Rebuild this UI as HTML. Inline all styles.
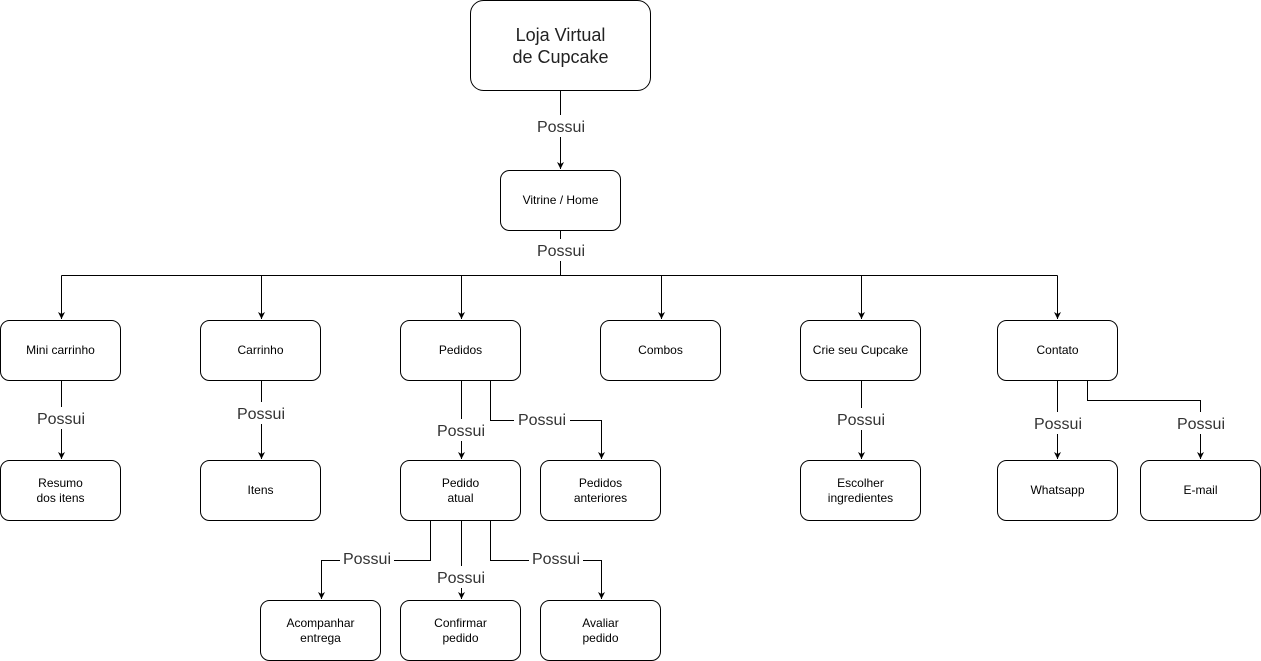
<!DOCTYPE html>
<html><head><meta charset="utf-8"><style>
html,body{margin:0;padding:0;background:#fff;width:1261px;height:661px;overflow:hidden}
svg{display:block;font-family:"Liberation Sans",Arial,sans-serif}
.b{fill:#fff;stroke:#000;stroke-width:1}
.l{fill:none;stroke:#000;stroke-width:1}
.t{font-size:12px;fill:#000;text-anchor:middle}
.p{font-size:16px;fill:#333;text-anchor:middle}
.bg{fill:#fff}
</style></head><body>
<svg width="1261" height="661" viewBox="0 0 1261 661">
<defs><marker id="a" markerWidth="8" markerHeight="8" refX="7" refY="4" orient="auto" markerUnits="userSpaceOnUse"><path d="M0,0.5 L7,4 L0,7.5 L2,4 Z" fill="#000"/></marker></defs>
<path class="l" d="M560.5,90 V169" marker-end="url(#a)"/>
<path class="l" d="M560.5,230 V275.5 M61.5,275.5 H1057.5"/>
<g marker-end="url(#a)">
<path class="l" d="M61.5,275.5 V319"/>
<path class="l" d="M261.5,275.5 V319"/>
<path class="l" d="M461.5,275.5 V319"/>
<path class="l" d="M661.5,275.5 V319"/>
<path class="l" d="M861.5,275.5 V319"/>
<path class="l" d="M1057.5,275.5 V319"/>
<path class="l" d="M61.5,380 V459"/>
<path class="l" d="M261.5,380 V459"/>
<path class="l" d="M461.5,380 V459"/>
<path class="l" d="M490.5,380 V420.5 H601.5 V459"/>
<path class="l" d="M861.5,380 V459"/>
<path class="l" d="M1057.5,380 V459"/>
<path class="l" d="M1087.5,380 V400.5 H1200.5 V459"/>
<path class="l" d="M430.5,520 V560.5 H321.5 V599"/>
<path class="l" d="M461.5,520 V599"/>
<path class="l" d="M490.5,520 V560.5 H601.5 V599"/>
</g>
<rect class="bg" x="534" y="115" width="54" height="22"/><text class="p" x="561" y="132">Possui</text>
<rect class="bg" x="534" y="239" width="54" height="22"/><text class="p" x="561" y="256">Possui</text>
<rect class="bg" x="32" y="407" width="58" height="22"/><text class="p" x="61" y="424">Possui</text>
<rect class="bg" x="232" y="402" width="58" height="22"/><text class="p" x="261" y="419">Possui</text>
<rect class="bg" x="432" y="419" width="58" height="22"/><text class="p" x="461" y="436">Possui</text>
<rect class="bg" x="514" y="408" width="56" height="22"/><text class="p" x="542" y="425">Possui</text>
<rect class="bg" x="832" y="408" width="58" height="22"/><text class="p" x="861" y="425">Possui</text>
<rect class="bg" x="1029" y="412" width="58" height="22"/><text class="p" x="1058" y="429">Possui</text>
<rect class="bg" x="1172" y="412" width="58" height="22"/><text class="p" x="1201" y="429">Possui</text>
<rect class="bg" x="340" y="547" width="54" height="22"/><text class="p" x="367" y="564">Possui</text>
<rect class="bg" x="432" y="566" width="58" height="22"/><text class="p" x="461" y="583">Possui</text>
<rect class="bg" x="529" y="547" width="54" height="22"/><text class="p" x="556" y="564">Possui</text>
<rect class="b" x="470.5" y="0.5" width="180" height="90" rx="13"/>
<text class="p" style="fill:#222;font-size:18px" x="560.5" y="41">Loja Virtual</text>
<text class="p" style="fill:#222;font-size:18px" x="560.5" y="63">de Cupcake</text>
<rect class="b" x="500.5" y="170.5" width="120" height="60" rx="9"/><text class="t" x="560.5" y="204">Vitrine / Home</text>
<rect class="b" x="0.5" y="320.5" width="120" height="60" rx="9"/><text class="t" x="60.5" y="354">Mini carrinho</text>
<rect class="b" x="200.5" y="320.5" width="120" height="60" rx="9"/><text class="t" x="260.5" y="354">Carrinho</text>
<rect class="b" x="400.5" y="320.5" width="120" height="60" rx="9"/><text class="t" x="460.5" y="354">Pedidos</text>
<rect class="b" x="600.5" y="320.5" width="120" height="60" rx="9"/><text class="t" x="660.5" y="354">Combos</text>
<rect class="b" x="800.5" y="320.5" width="120" height="60" rx="9"/><text class="t" x="860.5" y="354">Crie seu Cupcake</text>
<rect class="b" x="997.5" y="320.5" width="120" height="60" rx="9"/><text class="t" x="1057.5" y="354">Contato</text>
<rect class="b" x="0.5" y="460.5" width="120" height="60" rx="9"/><text class="t" x="60.5" y="487">Resumo</text><text class="t" x="60.5" y="502">dos itens</text>
<rect class="b" x="200.5" y="460.5" width="120" height="60" rx="9"/><text class="t" x="260.5" y="494">Itens</text>
<rect class="b" x="400.5" y="460.5" width="120" height="60" rx="9"/><text class="t" x="460.5" y="487">Pedido</text><text class="t" x="460.5" y="502">atual</text>
<rect class="b" x="540.5" y="460.5" width="120" height="60" rx="9"/><text class="t" x="600.5" y="487">Pedidos</text><text class="t" x="600.5" y="502">anteriores</text>
<rect class="b" x="800.5" y="460.5" width="120" height="60" rx="9"/><text class="t" x="860.5" y="487">Escolher</text><text class="t" x="860.5" y="502">ingredientes</text>
<rect class="b" x="997.5" y="460.5" width="120" height="60" rx="9"/><text class="t" x="1057.5" y="494">Whatsapp</text>
<rect class="b" x="1140.5" y="460.5" width="120" height="60" rx="9"/><text class="t" x="1200.5" y="494">E-mail</text>
<rect class="b" x="260.5" y="600.5" width="120" height="60" rx="9"/><text class="t" x="320.5" y="627">Acompanhar</text><text class="t" x="320.5" y="642">entrega</text>
<rect class="b" x="400.5" y="600.5" width="120" height="60" rx="9"/><text class="t" x="460.5" y="627">Confirmar</text><text class="t" x="460.5" y="642">pedido</text>
<rect class="b" x="540.5" y="600.5" width="120" height="60" rx="9"/><text class="t" x="600.5" y="627">Avaliar</text><text class="t" x="600.5" y="642">pedido</text>
</svg>
</body></html>
